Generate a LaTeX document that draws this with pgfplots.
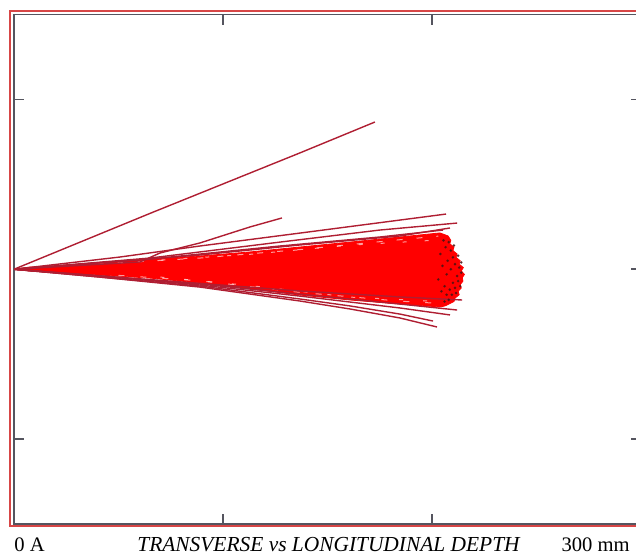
\documentclass[border=0pt]{standalone}
\usepackage{pgfplots}
\pgfplotsset{compat=1.18}
\usepackage{fontspec}
\setmainfont{Liberation Serif}
\definecolor{traj}{RGB}{175,30,50}
\definecolor{fan}{RGB}{255,0,0}
\definecolor{framered}{RGB}{215,70,70}
\definecolor{axgray}{RGB}{85,85,95}
\definecolor{enddot}{RGB}{70,20,20}
\begin{document}
\begin{tikzpicture}
\draw[framered, line width=1pt] (5pt,14pt) rectangle (330pt,271.3pt);
\begin{axis}[at={(7pt,15pt)}, anchor=south west, scale only axis,
  width=313.5pt, height=254.75pt,
  xmin=0, xmax=300, ymin=-150, ymax=150,
  xtick={0,100,200,300}, ytick={-100,0,100},
  xticklabels={}, yticklabels={},
  tick align=inside, major tick length=5pt,
  tick style={axgray, line width=0.9pt},
  axis line style={axgray, line width=0.8pt}]
% dense fan of trajectories
\addplot[fill=fan, draw=fan, line width=0.4pt] coordinates {
 (0,0) (7.7,1.3) (22.0,1.9) (41.1,3.7) (65.1,6.0) (89.0,7.8) (112.9,10.2)
 (136.8,13.1) (160.8,16.0) (184.7,19.0) (203.8,21.4)
 (207.7,19.6) (209,17) (208.5,15) (210.5,13) (210,11) (212,9) (211.5,7)
 (213.5,5) (213,3) (215,1) (214,-1) (215.5,-3) (214.5,-5) (214.8,-7)
 (213.5,-9) (214,-11) (212.5,-13) (213,-15) (211,-17) (210.5,-19)
 (208,-20.5) (206.2,-21.6)
 (203.8,-22.2) (184.7,-20.5) (160.8,-18.1) (136.8,-15.2) (112.9,-11.6)
 (89.0,-8.1) (65.1,-5.2) (41.1,-3.4) (22.0,-2.0) (7.7,-1.0) (0,0)};
% light streaks inside the dense fan
\addplot[white, opacity=0.6, line width=0.5pt, dash pattern=on 3pt off 7pt] coordinates {(40,3.0) (89.0,6.6) (136.8,11.6) (184.7,17.4) (203,19.5)};
\addplot[white, opacity=0.6, line width=0.5pt, dash pattern=on 2pt off 9pt] coordinates {(60,4.6) (112.9,8.8) (160.8,14.2) (200,17.0)};
\addplot[white, opacity=0.6, line width=0.5pt, dash pattern=on 3pt off 8pt] coordinates {(50,-3.6) (89.0,-6.8) (136.8,-13.6) (184.7,-18.8) (205,-20.2)};
\addplot[white, opacity=0.6, line width=0.5pt, dash pattern=on 2pt off 10pt] coordinates {(70,-4.6) (112.9,-9.6) (160.8,-16.4) (200,-18.8)};
% individual trajectories
\addplot[traj, line width=0.7pt] coordinates {(0,0) (65.1,32.9) (136.8,68.5) (172.7,86.7)};
\addplot[traj, line width=0.7pt] coordinates {(0,0) (60.3,4.3) (69.9,9.6) (89.0,15.5) (112.9,24.9) (128.2,30.2)};
\addplot[traj, line width=0.7pt] coordinates {(0,0) (50.7,7.2) (89.0,13.7) (136.8,21.3) (206.7,32.5)};
\addplot[traj, line width=0.7pt] coordinates {(0,0) (65.1,6.6) (127.3,16.0) (175.1,23.1) (212.0,27.2)};
\addplot[traj, line width=0.7pt] coordinates {(0,0) (65.1,6.0) (127.3,13.7) (175.1,19.0) (205.3,23.1)};
\addplot[traj, line width=0.7pt] coordinates {(0,0) (89.0,8.4) (136.8,14.3) (184.7,19.6) (208.6,24.3)};
\addplot[traj, line width=0.7pt] coordinates {(0,0) (41.1,-4.6) (89.0,-10.5) (136.8,-18.7) (160.8,-23.4) (184.7,-28.7) (202.4,-34.0)};
\addplot[traj, line width=0.7pt] coordinates {(0,0) (41.1,-4.6) (89.0,-9.9) (136.8,-17.5) (160.8,-21.6) (184.7,-26.4) (200.5,-30.5)};
\addplot[traj, line width=0.7pt] coordinates {(0,0) (41.1,-4.0) (89.0,-9.3) (136.8,-15.8) (184.7,-22.8) (208.6,-26.9)};
\addplot[traj, line width=0.7pt] coordinates {(0,0) (89.0,-8.7) (136.8,-14.6) (184.7,-20.5) (212.0,-24.0)};
\addplot[traj, line width=0.7pt] coordinates {(0,0) (136.8,-12.8) (184.7,-16.3) (214.4,-18.1)};
% stopping points
\addplot[only marks, mark=*, mark size=0.45pt, enddot, opacity=0.7] coordinates {
 (213,1) (211,3) (214,-2) (212,-4) (209,0) (210,-8) (212.5,-7) (208.5,-12)
 (211,-11) (207,-15) (209.5,-15) (208,-18) (206,-10) (207.5,5) (210,7)
 (212.5,8) (209,11) (206.5,13) (208,16) (205.5,17) (204,9) (207,-3) (205,2)
 (203,-6) (204.5,-13) (211.5,-14) (213.5,-10) (214,4) (210.5,14) (206,-19)};
\end{axis}
\node[anchor=base west, inner sep=0pt] at (7pt,1.5pt) {\fontsize{10.3}{12}\selectfont 0 A};
\node[anchor=base, inner sep=0pt] at (164.25pt,1.5pt) {\fontsize{10.7}{12}\selectfont\itshape TRANSVERSE vs LONGITUDINAL DEPTH};
\node[anchor=base east, inner sep=0pt] at (315pt,1.5pt) {\fontsize{10.3}{12}\selectfont 300 mm};
\pgfresetboundingbox
\useasboundingbox (0pt,0pt) rectangle (318pt,277pt);
\end{tikzpicture}
\end{document}
